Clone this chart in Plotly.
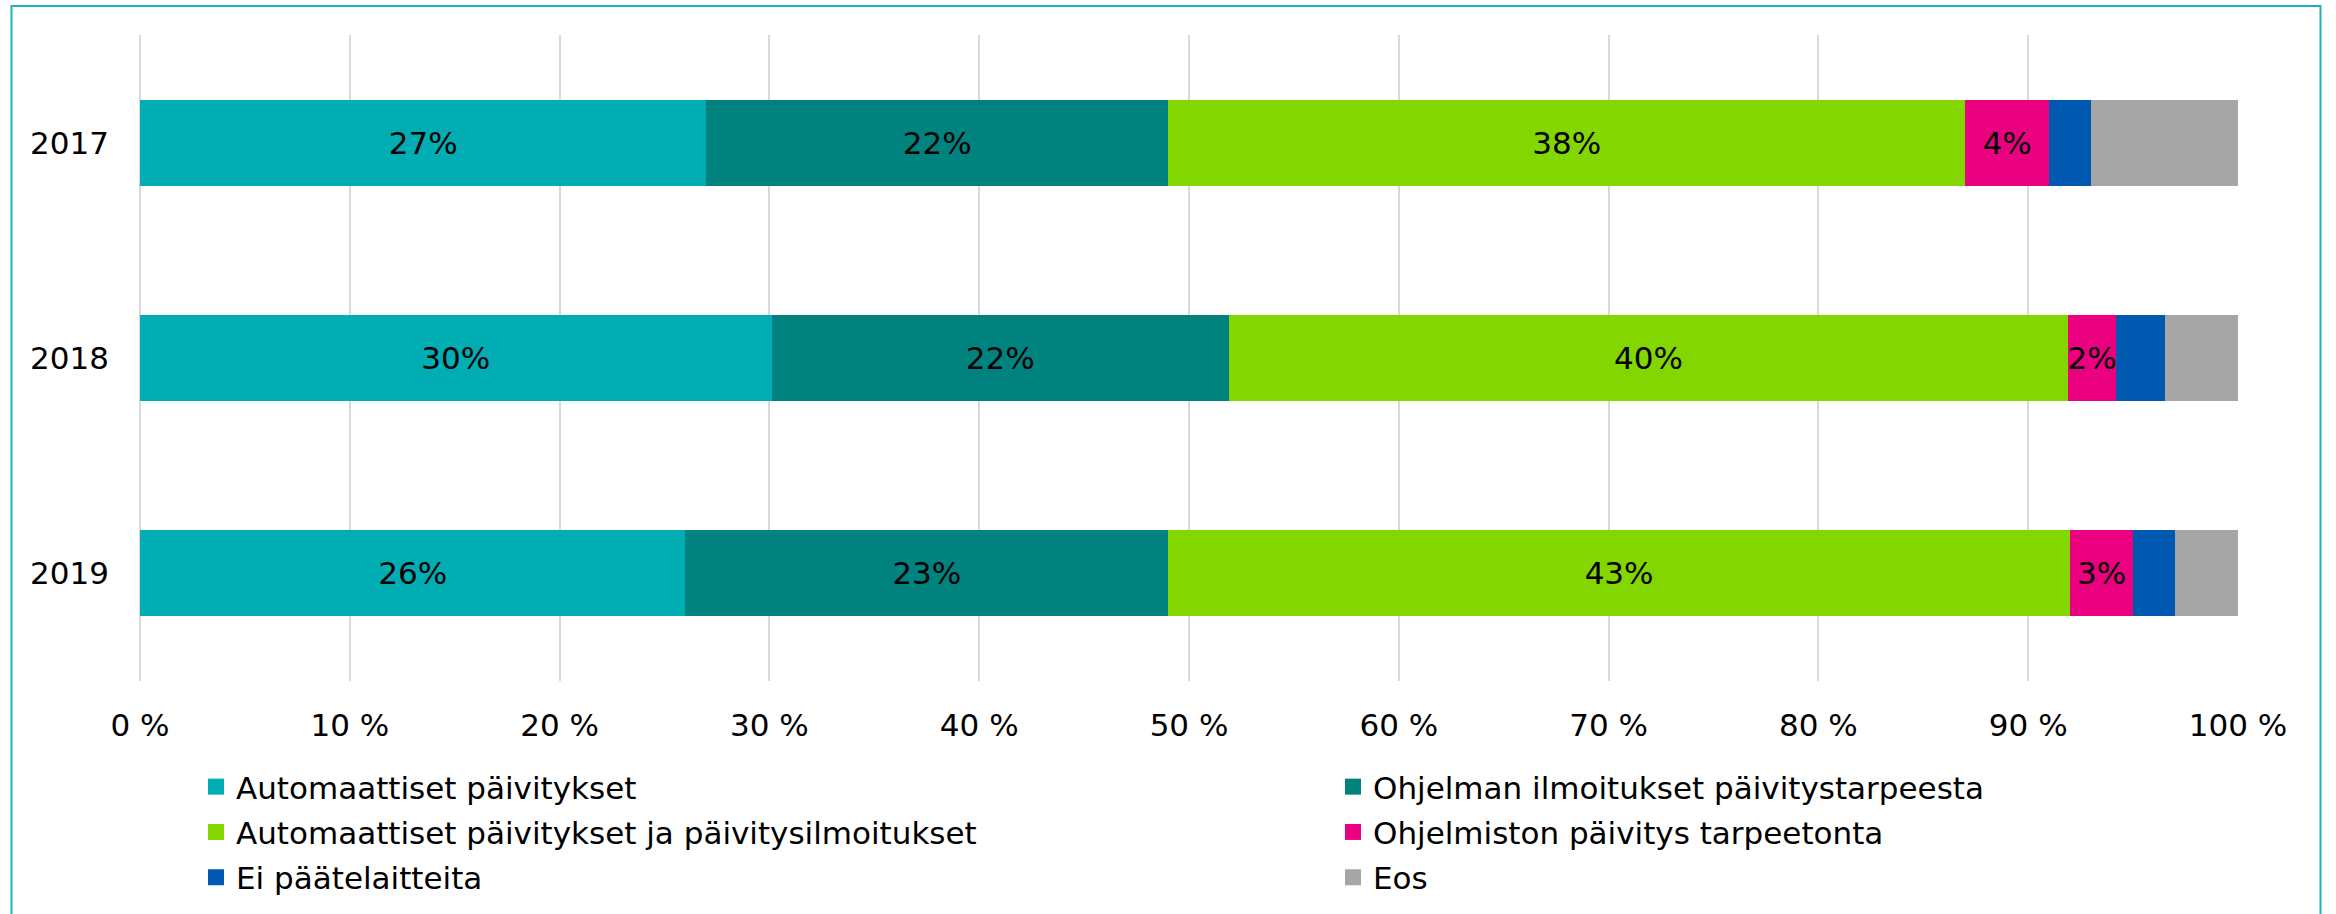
import plotly.graph_objects as go

years = ["2017", "2018", "2019"]
series_names = [
    "Automaattiset päivitykset",
    "Ohjelman ilmoitukset päivitystarpeesta",
    "Automaattiset päivitykset ja päivitysilmoitukset",
    "Ohjelmiston päivitys tarpeetonta",
    "Ei päätelaitteita",
    "Eos",
]
auto_updates = [27, 30.1, 26]
program_notices = [22, 21.8, 23]
auto_and_notices = [38, 40.0, 43]
update_unneeded = [4, 2.3, 3]
no_devices = [2, 2.3, 2]
dont_know = [7, 3.5, 3]
series_values = [auto_updates, program_notices, auto_and_notices,
                 update_unneeded, no_devices, dont_know]
show_labels = [True, True, True, True, False, False]
colors = ["#00ADB3", "#00827F", "#83D600", "#EB0080", "#0059B0", "#A6A6A6"]
x_ticks = list(range(0, 101, 10))
x_ticktext = [f"{v} %" for v in x_ticks]

FONT = "DejaVu Sans"
FS = 31

fig = go.Figure()
for name, vals, lab, col in zip(series_names, series_values, show_labels, colors):
    fig.add_trace(go.Bar(
        y=years, x=vals, orientation="h", name=name,
        marker=dict(color=col, line=dict(width=0)),
        text=[f"{round(v)}%" for v in vals] if lab else None,
        textposition="inside", insidetextanchor="middle",
        constraintext="none", textangle=0,
        textfont=dict(family=FONT, size=FS, color="#000000"),
        showlegend=False, legendgroup=name,
    ))

# legend entries (two columns)
for i, (name, col) in enumerate(zip(series_names, colors)):
    fig.add_trace(go.Scatter(
        x=[None], y=[None], mode="markers", name=name,
        marker=dict(symbol="square", size=18, color=col),
        legend="legend" if i % 2 == 0 else "legend2",
        legendgroup=name, showlegend=True, hoverinfo="skip",
    ))

W, H = 2336, 914
L, R, T, B = 140, 98, 35, 233
pw, ph = W - L - R, H - T - B

def px_x(p):
    return (p - L) / pw

def px_y(p):
    return (H - B - p) / ph

legend_common = dict(
    font=dict(family=FONT, size=FS, color="#000000"),
    bgcolor="rgba(0,0,0,0)", borderwidth=0,
    orientation="v", xanchor="left", yanchor="top",
    traceorder="grouped", tracegroupgap=2, itemsizing="trace",
)

fig.update_layout(
    width=W, height=H,
    margin=dict(l=L, r=R, t=T, b=B, pad=0, autoexpand=False),
    barmode="stack", bargap=0.6,
    plot_bgcolor="white", paper_bgcolor="white",
    font=dict(family=FONT, size=FS, color="#000000"),
    xaxis=dict(
        range=[0, 100], tickvals=x_ticks, ticktext=x_ticktext,
        showgrid=True, gridcolor="#D9D9D9", gridwidth=2,
        zeroline=True, zerolinecolor="#D9D9D9", zerolinewidth=2,
        showline=False, ticks="", ticklabelstandoff=23, automargin=False,
        tickfont=dict(family=FONT, size=FS, color="#000000"),
        fixedrange=True,
    ),
    yaxis=dict(
        type="category", categoryorder="array", categoryarray=years,
        range=[2.5, -0.5], showgrid=False, zeroline=False, showline=False,
        ticks="", ticklabelstandoff=30, automargin=False,
        tickfont=dict(family=FONT, size=FS, color="#000000"),
        fixedrange=True,
    ),
    legend=dict(x=px_x(196), y=px_y(760), **legend_common),
    legend2=dict(x=px_x(1333), y=px_y(760), **legend_common),
    shapes=[dict(
        type="rect", xref="paper", yref="paper",
        x0=px_x(11.5), x1=px_x(2320.5), y0=px_y(940), y1=px_y(6),
        line=dict(color="#1BB3B5", width=2), fillcolor="rgba(0,0,0,0)",
        layer="above",
    )],
)

fig.write_html(
    "out.html",
    config={"displayModeBar": False},
    post_script="document.body.style.margin='0';document.body.style.overflow='hidden';",
)
